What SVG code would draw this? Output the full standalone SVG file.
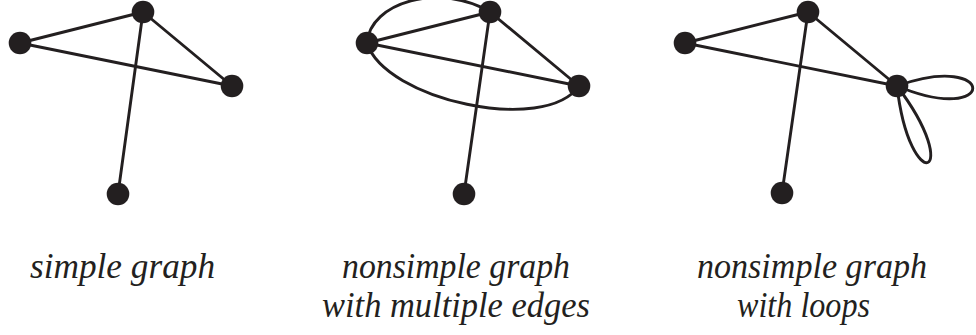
<svg xmlns="http://www.w3.org/2000/svg" width="976" height="335" viewBox="0 0 976 335">
<style>
.e{fill:none;stroke:#231f20;stroke-width:2.9;stroke-linecap:round}
.n{fill:#231f20}
.t{font-family:"Liberation Serif","Times New Roman",serif;font-style:italic;font-size:35px;fill:#231f20}
</style>
<rect width="976" height="335" fill="#fff"/>
<g id="connectors">
<line class="e" x1="143" y1="12" x2="20" y2="43"/>
<line class="e" x1="143" y1="12" x2="232" y2="86"/>
<line class="e" x1="20" y1="43" x2="232" y2="86"/>
<line class="e" x1="143" y1="12" x2="118" y2="194"/>
<line class="e" x1="490" y1="12" x2="367" y2="43"/>
<line class="e" x1="490" y1="12" x2="579" y2="86"/>
<line class="e" x1="367" y1="43" x2="579" y2="86"/>
<line class="e" x1="490" y1="12" x2="464" y2="194"/>
<path class="e" d="M367,43 C370,2 440,-18 490,12"/>
<path class="e" d="M367,43 C385,100 545,135 579,86"/>
<line class="e" x1="808" y1="12" x2="685" y2="43"/>
<line class="e" x1="808" y1="12" x2="897" y2="86"/>
<line class="e" x1="685" y1="43" x2="897" y2="86"/>
<line class="e" x1="808" y1="12" x2="782" y2="193"/>
<path class="e" d="M897,86 C998,50 998,128 897,86"/>
<path class="e" d="M897,86 C910,199 966,177 897,86"/>
</g>
<g id="g1-top"><circle class="n" cx="143" cy="12" r="11.3"/></g>
<g id="g1-left"><circle class="n" cx="20" cy="43" r="11.3"/></g>
<g id="g1-right"><circle class="n" cx="232" cy="86" r="11.3"/></g>
<g id="g1-bottom"><circle class="n" cx="118" cy="194" r="11.3"/></g>
<g id="g2-top"><circle class="n" cx="490" cy="12" r="11.3"/></g>
<g id="g2-left"><circle class="n" cx="367" cy="43" r="11.3"/></g>
<g id="g2-right"><circle class="n" cx="579" cy="86" r="11.3"/></g>
<g id="g2-bottom"><circle class="n" cx="464" cy="194" r="11.3"/></g>
<g id="g3-top"><circle class="n" cx="808" cy="12" r="11.3"/></g>
<g id="g3-left"><circle class="n" cx="685" cy="43" r="11.3"/></g>
<g id="g3-right"><circle class="n" cx="897" cy="86" r="11.3"/></g>
<g id="g3-bottom"><circle class="n" cx="782" cy="193" r="11.3"/></g>
<g id="label-simple"><text class="t" x="30" y="278" textLength="185" lengthAdjust="spacingAndGlyphs">simple graph</text></g>
<g id="label-multi">
<text class="t" x="342" y="278" textLength="228" lengthAdjust="spacingAndGlyphs">nonsimple graph</text>
<text class="t" x="322" y="317" textLength="268" lengthAdjust="spacingAndGlyphs">with multiple edges</text>
</g>
<g id="label-loops">
<text class="t" x="697" y="278" textLength="230" lengthAdjust="spacingAndGlyphs">nonsimple graph</text>
<text class="t" x="737" y="317" textLength="133" lengthAdjust="spacingAndGlyphs">with loops</text>
</g>
</svg>
